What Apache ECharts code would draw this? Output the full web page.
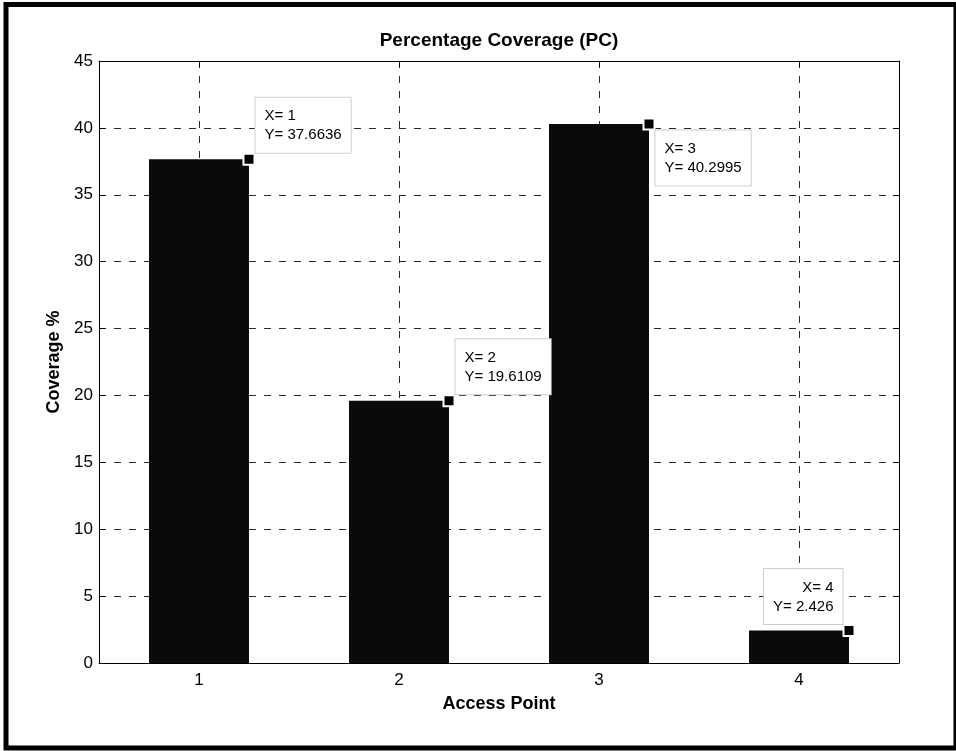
<!DOCTYPE html>
<html>
<head>
<meta charset="utf-8">
<script src="https://cdn.jsdelivr.net/npm/echarts@6/dist/echarts.min.js"></script>
<style>
  html, body { margin: 0; padding: 0; background: #fff; }
  #chart { width: 956px; height: 751px; }
</style>
</head>
<body>
<div id="chart"></div>
<script>
// Access points (x categories) and their percentage coverage
const accessPoints = ['1', '2', '3', '4'];
const coverage = [37.6636, 19.6109, 40.2995, 2.426];

// Y axis range and step
const yMin = 0;
const yMax = 45;
const yStep = 5;

// Which corner of each data tip the text box sits on
const tipCorner = ['ne', 'ne', 'se', 'nw'];

const FONT = '"Liberation Sans", Arial, Helvetica, sans-serif';
const BAR_HALF = 0.25; // half of a bar, in category units (barWidth 50%)

const corners = {
  ne: { position: ['100%', 0], align: 'left', verticalAlign: 'bottom' },
  se: { position: ['100%', '100%'], align: 'left', verticalAlign: 'top' },
  nw: { position: [0, 0], align: 'right', verticalAlign: 'bottom' }
};

const gridDash = {
  show: true,
  lineStyle: { color: '#2a2a2a', width: 1, type: [7, 8] }
};

const chart = echarts.init(document.getElementById('chart'), null, { renderer: 'canvas' });

chart.setOption({
  animation: false,
  backgroundColor: '#fff',
  textStyle: { fontFamily: FONT },
  title: {
    text: 'Percentage Coverage (PC)',
    left: 499,
    textAlign: 'center',
    top: 31,
    padding: 0,
    textStyle: { fontFamily: FONT, fontSize: 19, fontWeight: 'bold', color: '#000' }
  },
  grid: { left: 99, right: 57, top: 61, bottom: 88, containLabel: false },
  xAxis: [
    {
      type: 'category',
      data: accessPoints,
      position: 'bottom',
      boundaryGap: true,
      axisLine: { show: true, lineStyle: { color: '#000', width: 1 } },
      axisTick: { show: true, inside: true, alignWithLabel: true, length: 6, lineStyle: { color: '#000' } },
      axisLabel: { color: '#000', fontSize: 17, fontFamily: FONT, margin: 9 },
      splitLine: { show: false },
      name: 'Access Point',
      nameLocation: 'middle',
      nameGap: 32,
      nameTextStyle: { color: '#000', fontSize: 18, fontWeight: 'bold', fontFamily: FONT }
    },
    {
      // same span as the categories, used for the vertical grid and the data tips
      type: 'value',
      position: 'top',
      min: 0.5,
      max: 4.5,
      splitNumber: 4,
      axisLine: { show: true, onZero: false, lineStyle: { color: '#000', width: 1 } },
      axisTick: { show: true, inside: true, length: 6, lineStyle: { color: '#000' } },
      axisLabel: { show: false },
      splitLine: gridDash
    }
  ],
  yAxis: [
    {
      type: 'value',
      position: 'left',
      min: yMin,
      max: yMax,
      interval: yStep,
      axisLine: { show: true, lineStyle: { color: '#000', width: 1 } },
      axisTick: { show: true, inside: true, length: 6, lineStyle: { color: '#000' } },
      axisLabel: { color: '#000', fontSize: 17, fontFamily: FONT, margin: 6 },
      splitLine: gridDash,
      name: 'Coverage %',
      nameLocation: 'middle',
      nameGap: 35,
      nameTextStyle: { color: '#000', fontSize: 18, fontWeight: 'bold', fontFamily: FONT }
    },
    {
      type: 'value',
      position: 'right',
      min: yMin,
      max: yMax,
      interval: yStep,
      axisLine: { show: true, lineStyle: { color: '#000', width: 1 } },
      axisTick: { show: true, inside: true, length: 6, lineStyle: { color: '#000' } },
      axisLabel: { show: false },
      splitLine: { show: false }
    }
  ],
  series: [
    {
      type: 'bar',
      xAxisIndex: 0,
      yAxisIndex: 0,
      data: coverage,
      barWidth: '50%',
      itemStyle: { color: '#0a0a0a' },
      z: 2
    },
    {
      // data tips at the top-right corner of each bar
      type: 'scatter',
      xAxisIndex: 1,
      yAxisIndex: 0,
      symbol: 'rect',
      symbolSize: 11,
      itemStyle: { color: '#000', borderColor: '#fff', borderWidth: 2, opacity: 1 },
      z: 5,
      data: coverage.map((v, i) => ({
        value: [Number(accessPoints[i]) + BAR_HALF, v],
        label: corners[tipCorner[i]]
      })),
      label: {
        show: true,
        formatter: p => 'X= ' + accessPoints[p.dataIndex] + '\nY= ' + coverage[p.dataIndex],
        color: '#000',
        fontFamily: FONT,
        fontSize: 15,
        lineHeight: 19,
        backgroundColor: '#fff',
        borderColor: '#cfcfcf',
        borderWidth: 1,
        padding: [9, 9, 8, 9]
      },
      emphasis: { disabled: true }
    }
  ],
  graphic: [
    {
      type: 'rect',
      silent: true,
      z: 100,
      shape: { x: 6, y: 4.5, width: 950, height: 743.5 },
      style: { fill: null, stroke: '#000', lineWidth: 5 }
    }
  ]
});
</script>
</body>
</html>
